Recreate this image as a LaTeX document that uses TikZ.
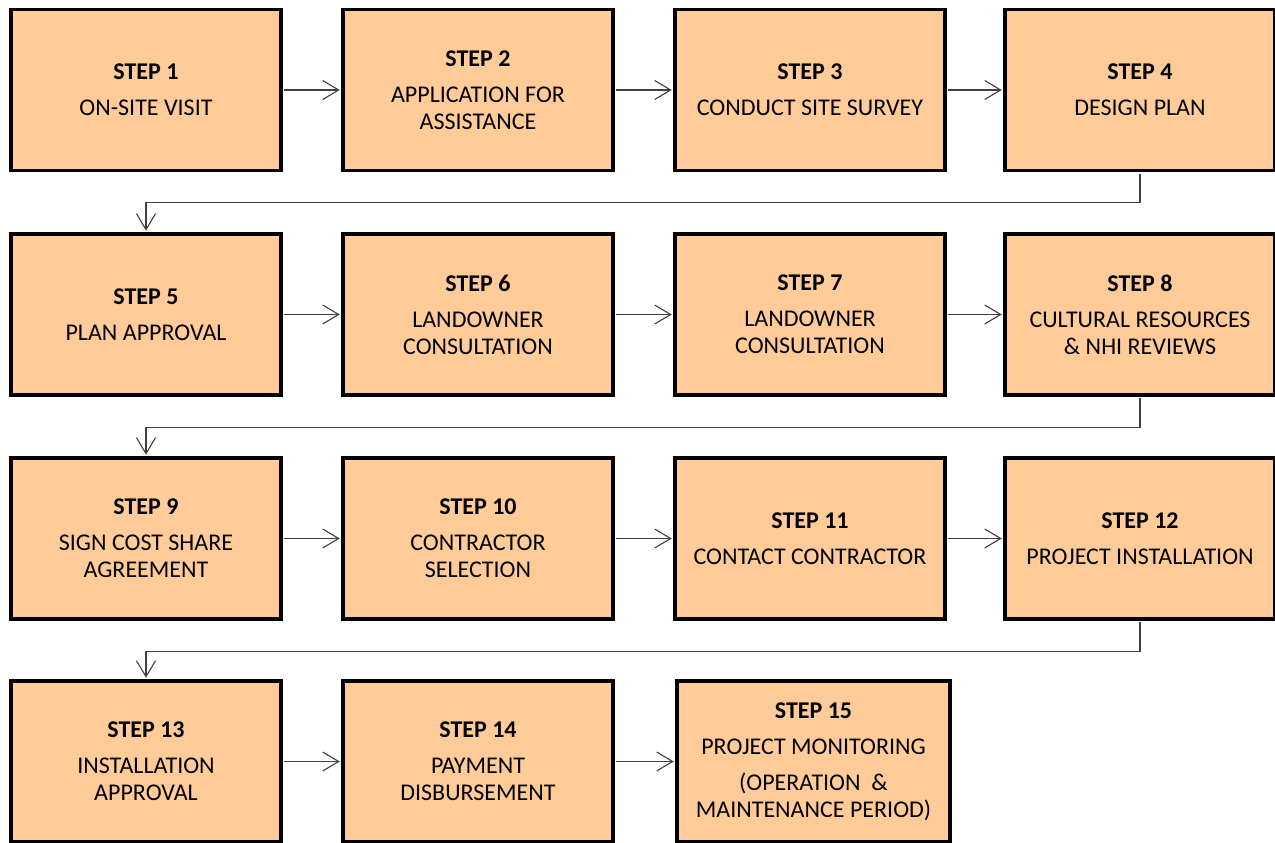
\documentclass[tikz,border=0pt]{standalone}
\usepackage{fontspec}
\setmainfont{Carlito}
\usepackage{tikz}
\usetikzlibrary{arrows.meta}

\definecolor{boxfill}{HTML}{FFCC99}
\definecolor{linkgray}{HTML}{404040}

\begin{document}
\begin{tikzpicture}[
    x=1pt, y=-1pt,
    >={Straight Barb[length=16pt,width=19pt]},
    stepbox/.style={draw=black, line width=3.3pt, fill=boxfill, minimum width=270pt,
        minimum height=161pt, inner sep=0pt, align=center,
        font=\fontsize{24}{27}\selectfont},
    link/.style={->, draw=linkgray, line width=1.1pt, shorten <=1.6pt, shorten >=1.6pt}
]
    \useasboundingbox (0,0) rectangle (1275,843);

    % row 1
    \node[stepbox] (s1) at (146,90) {\textbf{STEP 1}\\[9pt] ON-SITE VISIT};
    \node[stepbox] (s2) at (478,90) {\textbf{STEP 2}\\[9pt] APPLICATION FOR\\ ASSISTANCE};
    \node[stepbox] (s3) at (810,90) {\textbf{STEP 3}\\[9pt] CONDUCT SITE SURVEY};
    \node[stepbox] (s4) at (1140,90) {\textbf{STEP 4}\\[9pt] DESIGN PLAN};

    % row 2
    \node[stepbox] (s5) at (146,314.5) {\textbf{STEP 5}\\[9pt] PLAN APPROVAL};
    \node[stepbox] (s6) at (478,314.5) {\textbf{STEP 6}\\[9pt] LANDOWNER\\ CONSULTATION};
    \node[stepbox] (s7) at (810,314.5) {\textbf{STEP 7}\\[9pt] LANDOWNER\\ CONSULTATION};
    \node[stepbox] (s8) at (1140,314.5) {\textbf{STEP 8}\\[9pt] CULTURAL RESOURCES\\ \& NHI REVIEWS};

    % row 3
    \node[stepbox] (s9) at (146,538.5) {\textbf{STEP 9}\\[9pt] SIGN COST SHARE\\ AGREEMENT};
    \node[stepbox] (s10) at (478,538.5) {\textbf{STEP 10}\\[9pt] CONTRACTOR\\ SELECTION};
    \node[stepbox] (s11) at (810,538.5) {\textbf{STEP 11}\\[9pt] CONTACT CONTRACTOR};
    \node[stepbox] (s12) at (1140,538.5) {\textbf{STEP 12}\\[9pt] PROJECT INSTALLATION};

    % row 4
    \node[stepbox] (s13) at (146,761.5) {\textbf{STEP 13}\\[9pt] INSTALLATION\\ APPROVAL};
    \node[stepbox] (s14) at (478,761.5) {\textbf{STEP 14}\\[9pt] PAYMENT\\ DISBURSEMENT};
    \node[stepbox, minimum width=273pt] (s15) at (813.5,761.5)
        {\textbf{STEP 15}\\[9pt] PROJECT MONITORING\\[9pt] (OPERATION~\ \&\\ MAINTENANCE PERIOD)};

    % links along each row
    \draw[link] (s1) -- (s2);
    \draw[link] (s2) -- (s3);
    \draw[link] (s3) -- (s4);
    \draw[link] (s5) -- (s6);
    \draw[link] (s6) -- (s7);
    \draw[link] (s7) -- (s8);
    \draw[link] (s9) -- (s10);
    \draw[link] (s10) -- (s11);
    \draw[link] (s11) -- (s12);
    \draw[link] (s13) -- (s14);
    \draw[link] (s14) -- (s15);

    % wrap to next row
    \draw[link] (s4.south) -- ++(0,30) -| (s5.north);
    \draw[link] (s8.south) -- ++(0,30.5) -| (s9.north);
    \draw[link] (s12.south) -- ++(0,30.5) -| (s13.north);
\end{tikzpicture}
\end{document}
